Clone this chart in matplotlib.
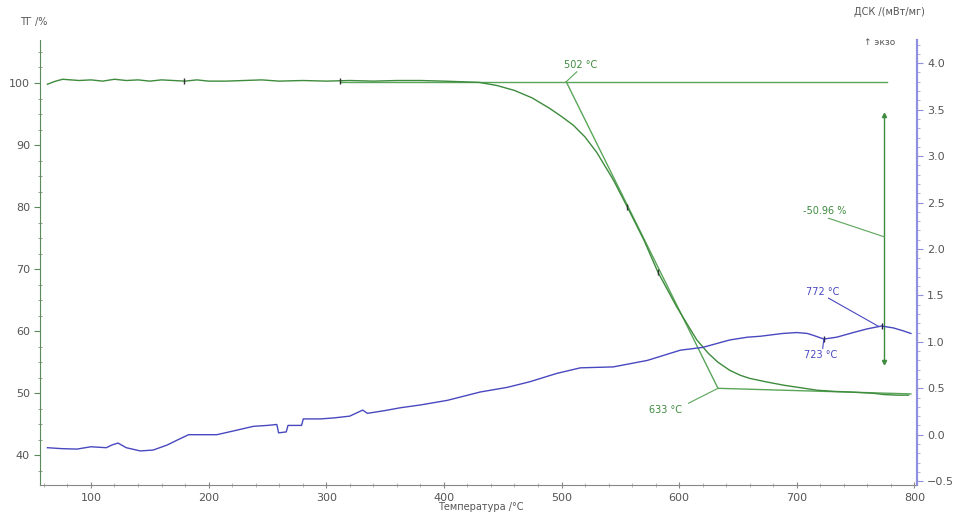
import matplotlib
matplotlib.use('Agg')
import matplotlib.pyplot as plt
from matplotlib.ticker import MultipleLocator

# ---------------- data ----------------
# TG curve (left axis, %)
tg_t = [63, 70, 76, 90, 100, 110, 120, 130, 140, 150, 160, 170, 180, 190, 200, 215, 230, 245,
        260, 280, 300, 320, 340, 360, 380, 400, 415, 430, 445, 460, 475, 490, 500, 510, 520,
        530, 544, 556, 570, 582, 598, 615, 625, 633, 643, 652, 660, 675, 689, 703, 717, 732,
        746, 765, 774, 785, 795]
tg_v = [99.8, 100.3, 100.6, 100.4, 100.5, 100.3, 100.6, 100.4, 100.5, 100.3, 100.5, 100.4,
        100.3, 100.5, 100.3, 100.3, 100.4, 100.5, 100.3, 100.4, 100.3, 100.4, 100.3, 100.4,
        100.4, 100.3, 100.2, 100.1, 99.6, 98.8, 97.6, 95.9, 94.6, 93.2, 91.3, 88.8, 84.4,
        80.0, 74.7, 69.5, 63.9, 58.6, 56.4, 55.0, 53.7, 52.9, 52.4, 51.8, 51.3, 50.9, 50.5,
        50.3, 50.2, 50.0, 49.8, 49.7, 49.7]

# DSC curve (right axis, mW/mg)
dsc_t = [63, 75, 88, 100, 113, 118, 123, 130, 142, 153, 165, 173, 183, 195, 207, 221, 238,
         250, 258, 259.5, 266, 267.5, 279, 280.5, 295, 306, 320, 331, 335, 350, 363, 380,
         403, 431, 454, 473, 496, 516, 544, 573, 601, 620, 643, 658, 669, 688, 700, 709,
         714, 723, 734, 748, 760, 772, 782, 790, 797]
dsc_v = [-0.14, -0.15, -0.155, -0.13, -0.14, -0.11, -0.09, -0.14, -0.175, -0.165, -0.11,
         -0.06, 0.0, 0.0, 0.0, 0.04, 0.09, 0.10, 0.11, 0.02, 0.03, 0.10, 0.10, 0.17, 0.17,
         0.18, 0.20, 0.265, 0.23, 0.26, 0.29, 0.32, 0.37, 0.46, 0.51, 0.57, 0.66, 0.72,
         0.73, 0.80, 0.91, 0.94, 1.02, 1.05, 1.06, 1.09, 1.10, 1.09, 1.07, 1.03, 1.05,
         1.10, 1.14, 1.17, 1.15, 1.12, 1.09]

# evaluation lines of the TG step
onset_t, onset_v = 504, 100.2
endset_t, endset_v = 633, 50.8
upper_base_t = [312, 777]
upper_base_v = [100.2, 100.2]
lower_base_t = [633, 797]
lower_base_v = [50.8, 49.9]
step_t = 774.5
step_v = [94.8, 55.0]

tg_markers_t = [179, 312, 556, 582]
tg_markers_v = [100.4, 100.3, 80.0, 69.5]

green = '#3d8b3d'
light_green = '#5aa55a'
blue = '#4848c0'
grey = '#555555'

fig = plt.figure(figsize=(9.61, 5.15), dpi=100)
ax1 = fig.add_axes([0.042, 0.058, 0.912, 0.864])
ax2 = ax1.twinx()

# TG
ax1.plot(upper_base_t, upper_base_v, color=light_green, linewidth=1)
ax1.plot(lower_base_t, lower_base_v, color=light_green, linewidth=1)
ax1.plot([onset_t, endset_t], [onset_v, endset_v], color=light_green, linewidth=1)
ax1.plot(tg_t, tg_v, color=green, linewidth=1)
ax1.plot(tg_markers_t, tg_markers_v, linestyle='none', marker='|', color='#333333', markersize=5)

# mass loss arrow
ax1.plot([step_t, step_t], step_v, color=green, linewidth=1)
ax1.plot([step_t], [step_v[0]], marker='^', color=green, markersize=3)
ax1.plot([step_t], [step_v[1]], marker='v', color=green, markersize=3)

# annotations (TG)
ax1.plot([513, onset_t], [101.8, onset_v], color=light_green, linewidth=0.8)
ax1.text(516, 102.9, '502 °C', color=green, fontsize=7, ha='center', va='center')
ax1.plot([608, endset_t], [48.4, endset_v], color=light_green, linewidth=0.8)
ax1.text(588, 47.3, '633 °C', color=green, fontsize=7, ha='center', va='center')
ax1.plot([727, step_t], [78.2, 75.2], color=light_green, linewidth=0.8)
ax1.text(724, 79.4, '-50.96 %', color=green, fontsize=7, ha='center', va='center')

# DSC
ax2.plot(dsc_t, dsc_v, color=blue, linewidth=1)
ax2.plot([723, 772], [1.03, 1.17], linestyle='none', marker='|', color='#222244', markersize=5)
ax2.plot([727, 769], [1.47, 1.17], color=blue, linewidth=0.8)
ax2.text(722, 1.535, '772 °C', color=blue, fontsize=7, ha='center', va='center')
ax2.plot([723, 722], [1.03, 0.93], color=blue, linewidth=0.8)
ax2.text(720, 0.857, '723 °C', color=blue, fontsize=7, ha='center', va='center')

# axes ranges
ax1.set_xlim(57, 802)
ax1.set_ylim(35.2, 106.9)
ax2.set_ylim(-0.543, 4.248)

ax1.xaxis.set_major_locator(MultipleLocator(100))
ax1.xaxis.set_minor_locator(MultipleLocator(20))
ax1.yaxis.set_major_locator(MultipleLocator(10))
ax1.yaxis.set_minor_locator(MultipleLocator(2.5))
ax2.yaxis.set_major_locator(MultipleLocator(0.5))
ax2.yaxis.set_minor_locator(MultipleLocator(0.1))

for sp in ['top']:
    ax1.spines[sp].set_visible(False)
    ax2.spines[sp].set_visible(False)
ax1.spines['left'].set_color('#5a8a5a')
ax1.spines['bottom'].set_color('#888888')
ax2.spines['right'].set_color('#9090e0')
ax2.spines['right'].set_linewidth(1.6)
ax2.spines['left'].set_visible(False)
ax2.spines['bottom'].set_visible(False)
ax1.spines['right'].set_visible(False)

ax1.tick_params(axis='x', which='major', direction='inout', length=5, colors='#888888',
                labelcolor=grey, labelsize=8)
ax1.tick_params(axis='x', which='minor', direction='inout', length=3, colors='#aaaaaa')
ax1.tick_params(axis='y', which='major', direction='out', length=4, colors='#5a8a5a',
                labelcolor=grey, labelsize=8)
ax1.tick_params(axis='y', which='minor', direction='inout', length=3, colors='#7a9a7a')
ax2.tick_params(axis='y', which='major', direction='out', length=4, colors='#9090e0',
                labelcolor=grey, labelsize=8)
ax2.tick_params(axis='y', which='minor', direction='out', length=2, colors='#a0a0e8')

# axis titles
fig.text(0.021, 0.957, 'ТГ /%', fontsize=7, color=grey, ha='left', va='center')
fig.text(0.962, 0.977, 'ДСК /(мВт/мг)', fontsize=7, color=grey, ha='right', va='center')
fig.text(0.915, 0.918, '↑ экзо', fontsize=6.5, color=grey, ha='center', va='center')
fig.text(0.50, 0.016, 'Температура /°C', fontsize=7, color=grey, ha='center', va='center')

fig.savefig('out.png', dpi=100)
